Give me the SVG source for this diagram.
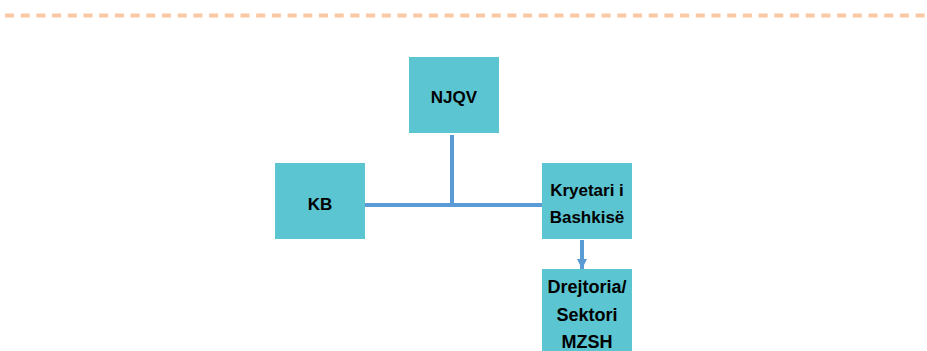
<svg xmlns="http://www.w3.org/2000/svg" width="927" height="351" viewBox="0 0 927 351">
<style>
.box{fill:#5BC5D1}
.t{font-family:"Liberation Sans",Arial,sans-serif;font-weight:bold;font-size:17px;fill:#000;text-anchor:middle}
.c{stroke:#5B9BD5;stroke-width:4;fill:none}
</style>
<defs>
<marker id="ah" markerWidth="10" markerHeight="10" refX="10" refY="5" orient="auto" markerUnits="userSpaceOnUse">
<path d="M0,0 L10,5 L0,10 Z" fill="#5B9BD5"/>
</marker>
</defs>
<line x1="5" y1="15.5" x2="927" y2="15.5" stroke="#FBC8A4" stroke-width="4" stroke-dasharray="9 6.7"/>
<g id="connectors">
<line class="c" x1="452" y1="135" x2="452" y2="205"/>
<line class="c" x1="365" y1="205" x2="544" y2="205"/>
<line class="c" x1="582" y1="240" x2="582" y2="269" marker-end="url(#ah)"/>
</g>
<g id="njqv"><rect class="box" x="409" y="57" width="90" height="76"/><text class="t" x="454" y="103">NJQV</text></g>
<g id="kb"><rect class="box" x="275" y="163" width="90" height="76"/><text class="t" x="320" y="210">KB</text></g>
<g id="kryetari"><rect class="box" x="542" y="163" width="90" height="76"/><text class="t" x="587" y="196">Kryetari i</text><text class="t" x="587" y="223">Bashkisë</text></g>
<g id="drejtoria"><rect class="box" x="542" y="269" width="90" height="90"/><text class="t" x="587" y="293" style="font-size:18px">Drejtoria/</text><text class="t" x="587" y="321" style="font-size:18px">Sektori</text><text class="t" x="587" y="348" style="font-size:18px">MZSH</text></g>
</svg>
